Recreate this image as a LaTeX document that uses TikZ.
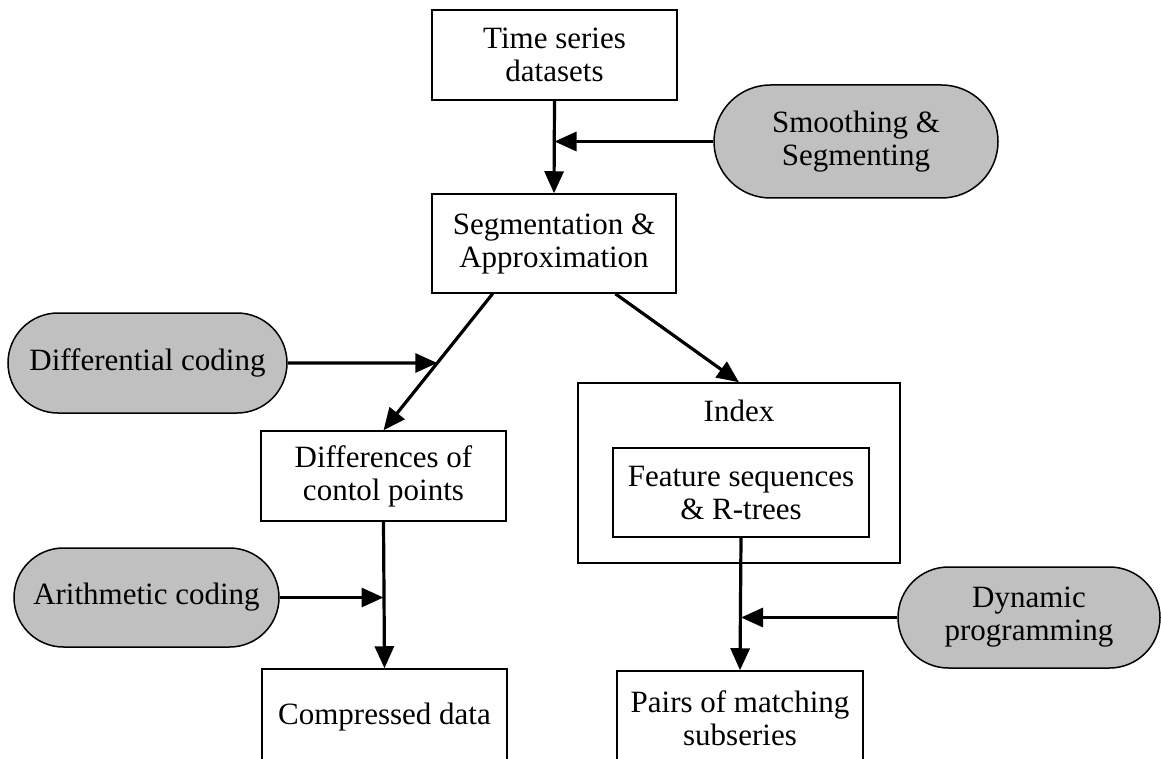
\documentclass[tikz,border=0pt]{standalone}
\usepackage{fontspec}
\setmainfont{Liberation Serif}
\usetikzlibrary{arrows.meta,calc,intersections}
\begin{document}
\begin{tikzpicture}[x=1pt,y=-1pt,
  every node/.style={font=\fontsize{31}{33}\selectfont, align=center, inner sep=0pt},
  procbox/.style={draw, line width=1.5pt, minimum width=#1, anchor=center},
  toolpill/.style={draw, line width=1.5pt, fill=pillgray, anchor=center},
  flow/.style={line width=3.2pt, -{Triangle[length=22pt,width=19pt]}}
]
\definecolor{pillgray}{HTML}{C0C0C0}
\useasboundingbox (0,0) rectangle (1161,759);
\clip (0,0) rectangle (1161,759);

% main pipeline boxes
\node[procbox=245pt, minimum height=90pt] (ts) at (554.5,55) {Time series\\datasets};
\node[procbox=244pt, minimum height=99pt] (seg) at (554,243.5) {Segmentation \&\\Approximation};
\node[procbox=245pt, minimum height=90pt] (diff) at (383.5,476) {Differences of\\contol points};
\node[procbox=245pt, minimum height=96pt] (comp) at (384.5,717) {Compressed data};
\node[procbox=322pt, minimum height=180pt] (index) at (739,473) {};
\node (indexlbl) at (739,411) {Index};
\node[procbox=256pt, minimum height=89pt] (feat) at (741,492.5) {Feature sequences\\\& R-trees};
\node[procbox=246pt, minimum height=94pt] (pairs) at (740,718) {Pairs of matching\\subseries};

% method pills
\node[toolpill, minimum width=284pt, minimum height=113pt, rounded corners=56.5pt] (smooth) at (856,141.5) {Smoothing \&\\Segmenting};
\node[toolpill, minimum width=279pt, minimum height=100pt, rounded corners=50pt] (diffc) at (147.5,363) {Differential coding};
\node[toolpill, minimum width=265pt, minimum height=99pt, rounded corners=49.5pt] (arith) at (146.5,597.5) {Arithmetic coding};
\node[toolpill, minimum width=262pt, minimum height=101pt, rounded corners=50.5pt] (dyn) at (1029,617.5) {Dynamic\\programming};

% connectors
\coordinate (a1) at ($(seg.south west)!0.25!(seg.south east)$);
\coordinate (a2) at ($(seg.south west)!0.75!(seg.south east)$);
\draw[flow] (ts.south) -- (seg.north);
\draw[flow] (a1) -- (diff.north);
\draw[flow] (a2) -- (index.north);
\draw[flow] (diff.south) -- (comp.north);
\draw[flow] (feat.south) -- (pairs.north);

% method inputs joining the flow lines
\coordinate (j1) at (ts.south |- smooth.west);
\path[name path=diag] (a1) -- (diff.north);
\path[name path=horiz] (diffc.east) -- ++(300,0);
\path[name intersections={of=diag and horiz, by=j2}];
\coordinate (j3) at (diff.south |- arith.east);
\coordinate (j4) at (feat.south |- dyn.west);
\draw[flow] (smooth.west) -- (j1);
\draw[flow] (diffc.east) -- (j2);
\draw[flow] (arith.east) -- (j3);
\draw[flow] (dyn.west) -- (j4);
\end{tikzpicture}
\end{document}
